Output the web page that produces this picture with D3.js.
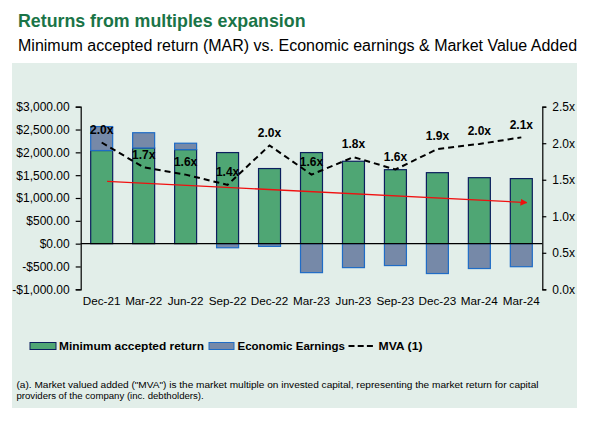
<!DOCTYPE html>
<html><head><meta charset="utf-8">
<script src="https://cdn.jsdelivr.net/npm/d3@7/dist/d3.min.js"></script>
<style>body{margin:0;background:#fff;}svg{display:block;font-family:"Liberation Sans",Arial,sans-serif;}</style>
</head><body>
<script>
const categories = ["Dec-21","Mar-22","Jun-22","Sep-22","Dec-22","Mar-23","Jun-23","Sep-23","Dec-23","Mar-24","Mar-24"];
const marValues = [2040, 2095, 2060, 1995, 1645, 1995, 1805, 1620, 1555, 1445, 1425];
const eeValues = [525, 335, 140, -90, -60, -635, -525, -480, -655, -545, -505];
const mvaValues = [2.01, 1.67, 1.57, 1.43, 1.97, 1.57, 1.81, 1.64, 1.92, 1.99, 2.08];
const mvaLabels = ["2.0x","1.7x","1.6x","1.4x","2.0x","1.6x","1.8x","1.6x","1.9x","2.0x","2.1x"];
const leftTicks = [-1000,-500,0,500,1000,1500,2000,2500,3000];
const rightTicks = [0,0.5,1,1.5,2,2.5];
const trendPoints = [{i:0.13, v:1365},{i:10.13, v:900}];
const legendLabels = ["Minimum accepted return","Economic Earnings","MVA (1)"];

const W=599,H=425;
const svg=d3.select("body").append("svg").attr("width",W).attr("height",H);
svg.append("rect").attr("x",12).attr("y",63).attr("width",565).attr("height",345).attr("fill","#e2eee9");

svg.append("text").attr("x",18).attr("y",27).attr("fill","#1a7447").attr("font-weight","bold").attr("font-size",17.8).text("Returns from multiples expansion");
svg.append("text").attr("x",18).attr("y",51).attr("fill","#000").attr("font-size",16).text("Minimum accepted return (MAR) vs. Economic earnings & Market Value Added");

const x0=80.7,x1=542.3,yTop=106.7,yBot=289.3;
const idx=categories.map((d,i)=>i);
const x=d3.scaleBand().domain(idx).range([x0,x1]).paddingInner(0.476).paddingOuter(0.238);
const y=d3.scaleLinear().domain([-1000,3000]).range([yBot,yTop]);
const y2=d3.scaleLinear().domain([0,2.5]).range([yBot,yTop]);
const xi=d3.scaleLinear().domain([0,10]).range([x(0)+x.bandwidth()/2,x(10)+x.bandwidth()/2]);

// bars MAR
svg.append("g").selectAll("rect").data(idx).join("rect")
 .attr("x",i=>x(i)).attr("width",x.bandwidth())
 .attr("y",i=>y(marValues[i])).attr("height",i=>y(0)-y(marValues[i]))
 .attr("fill","#4fa674").attr("stroke","#0c1f5e").attr("stroke-width",1.2);
// bars EE
svg.append("g").selectAll("rect").data(idx).join("rect")
 .attr("x",i=>x(i)).attr("width",x.bandwidth())
 .attr("y",i=>eeValues[i]>=0?y(marValues[i]+eeValues[i]):y(0))
 .attr("height",i=>eeValues[i]>=0?y(marValues[i])-y(marValues[i]+eeValues[i]):y(eeValues[i])-y(0))
 .attr("fill","#7689a8").attr("stroke","#1f6cc6").attr("stroke-width",1.2);

// zero line
svg.append("line").attr("x1",x0).attr("x2",x1).attr("y1",y(0)).attr("y2",y(0)).attr("stroke","#000").attr("stroke-width",1.2);

// axes
const la=svg.append("g").attr("transform",`translate(${x0},0)`).call(d3.axisLeft(y).tickValues(leftTicks).tickSize(5).tickPadding(6).tickFormat(d=>(d<0?"-":"")+"$"+d3.format(",.2f")(Math.abs(d))));
const ra=svg.append("g").attr("transform",`translate(${x1},0)`).call(d3.axisRight(y2).tickValues(rightTicks).tickSize(4).tickPadding(6).tickFormat(d=>d3.format(".1f")(d)+"x"));
[la,ra].forEach(g=>{g.select(".domain").attr("stroke","#000").attr("stroke-width",1.2);g.selectAll(".tick line").attr("stroke","#000").attr("stroke-width",1.2);g.selectAll("text").attr("font-size",12).attr("fill","#000").attr("font-family","Liberation Sans, Arial, sans-serif");});

// x labels
svg.append("g").selectAll("text").data(idx).join("text")
 .attr("x",i=>x(i)+x.bandwidth()/2).attr("y",305).attr("text-anchor","middle").attr("font-size",11.7).attr("fill","#000").text(i=>categories[i]);

// trend arrow
svg.append("defs").append("marker").attr("id","arr").attr("viewBox","0 0 10 10").attr("refX",9).attr("refY",5)
 .attr("markerWidth",7).attr("markerHeight",7).attr("markerUnits","userSpaceOnUse").attr("orient","auto")
 .append("path").attr("d","M0,0L10,5L0,10Z").attr("fill","#f01010");
svg.append("path").attr("d",d3.line().x(d=>xi(d.i)).y(d=>y(d.v))(trendPoints))
 .attr("stroke","#f01010").attr("stroke-width",1.3).attr("fill","none").attr("marker-end","url(#arr)");

// MVA line
svg.append("path").attr("d",d3.line().x(i=>x(i)+x.bandwidth()/2).y(i=>y2(mvaValues[i]))(idx))
 .attr("stroke","#000").attr("stroke-width",2).attr("stroke-dasharray","6,4").attr("fill","none");
svg.append("g").selectAll("text").data(idx).join("text")
 .attr("x",i=>x(i)+x.bandwidth()/2).attr("y",i=>y2(mvaValues[i])-13).attr("dy","0.35em")
 .attr("text-anchor","middle").attr("font-size",12).attr("font-weight","bold").attr("fill","#000").text(i=>mvaLabels[i]);

// legend
const ly=346;
const lg=svg.append("g");
lg.append("rect").attr("x",30).attr("y",ly-3.5).attr("width",26).attr("height",7).attr("fill","#4fa674").attr("stroke","#0c1f5e").attr("stroke-width",1);
lg.append("text").attr("x",59).attr("y",ly).attr("dy","0.35em").attr("font-size",11.5).attr("font-weight","bold").attr("textLength",145).attr("lengthAdjust","spacingAndGlyphs").text(legendLabels[0]);
lg.append("rect").attr("x",209).attr("y",ly-3.5).attr("width",25).attr("height",7).attr("fill","#7689a8").attr("stroke","#1f6cc6").attr("stroke-width",1);
lg.append("text").attr("x",237.5).attr("y",ly).attr("dy","0.35em").attr("font-size",11.5).attr("font-weight","bold").attr("textLength",107.5).attr("lengthAdjust","spacingAndGlyphs").text(legendLabels[1]);
lg.append("line").attr("x1",348.5).attr("x2",373).attr("y1",ly).attr("y2",ly).attr("stroke","#000").attr("stroke-width",2).attr("stroke-dasharray","6,3.2");
lg.append("text").attr("x",378.5).attr("y",ly).attr("dy","0.35em").attr("font-size",11.5).attr("font-weight","bold").attr("textLength",44).attr("lengthAdjust","spacingAndGlyphs").text(legendLabels[2]);

// footnote
svg.append("text").attr("x",16.5).attr("y",388).attr("font-size",9.6).attr("fill","#000").attr("textLength",522).attr("lengthAdjust","spacingAndGlyphs")
 .text('(a). Market valued added ("MVA") is the market multiple on invested capital, representing the market return for capital');
svg.append("text").attr("x",16.5).attr("y",399).attr("font-size",9.6).attr("fill","#000")
 .text('providers of the company (inc. debtholders).');
</script>
</body></html>
